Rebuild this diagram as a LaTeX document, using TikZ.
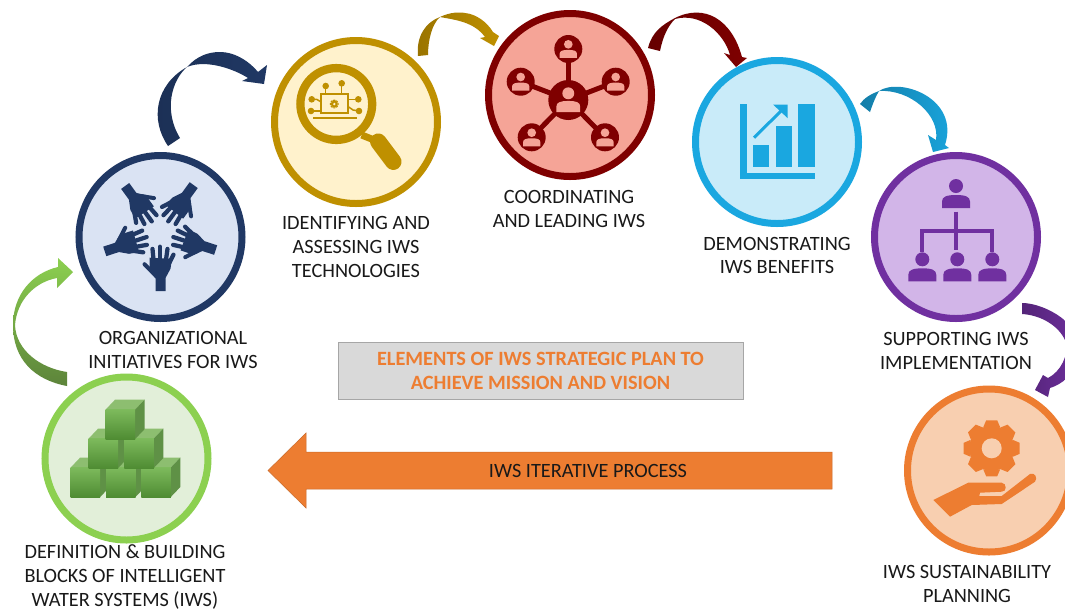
\documentclass[tikz,border=0pt]{standalone}
\usepackage{fontspec}
\setmainfont{Carlito}
\definecolor{navyring}{HTML}{203864}
\definecolor{navyfill}{HTML}{DAE3F3}
\definecolor{goldring}{HTML}{BF9000}
\definecolor{goldfill}{HTML}{FFF2CC}
\definecolor{redring}{HTML}{7F0000}
\definecolor{redfill}{HTML}{F5A497}
\definecolor{bluering}{HTML}{1AA7E0}
\definecolor{bluefill}{HTML}{C9EBF9}
\definecolor{purplering}{HTML}{7030A0}
\definecolor{purplefill}{HTML}{D2B5E8}
\definecolor{orangering}{HTML}{ED7D31}
\definecolor{orangefill}{HTML}{F8CFB0}
\definecolor{greenring}{HTML}{8CD050}
\definecolor{greenfill}{HTML}{E2EFD9}
\definecolor{cubetop}{HTML}{8DBE70}
\definecolor{cubeside}{HTML}{5F9146}
\definecolor{cubehigh}{HTML}{7DBA5C}
\definecolor{cubelow}{HTML}{4F8C33}
\tikzset{
  ring/.style={circle,draw,line width=1.4mm,minimum size=3.26cm,inner sep=0pt,outer sep=0pt},
  caption/.style={align=center,inner sep=0pt,text=black!90,font=\fontsize{11.55}{13.6}\selectfont},
  person/.pic={
    \fill[pic actions] (0,0) circle (0.7);
    \fill[pic actions] (-1.4,-2.2) -- (-1.4,-1.55) .. controls (-1.4,-1.05) and (-0.9,-0.9) .. (0,-0.9) .. controls (0.9,-0.9) and (1.4,-1.05) .. (1.4,-1.55) -- (1.4,-2.2) -- cycle;
  },
  gear/.pic={
    \fill[pic actions] (0,0) circle (2.25);
    \foreach \a in {0,45,...,315}
      \fill[pic actions,rotate=\a] (-0.85,2.1) -- (-0.55,2.8) -- (0.55,2.8) -- (0.85,2.1) -- cycle;
  },
  palm/.pic={
    \fill[pic actions] (-1.05,-2.5) -- (1.2,-2.6) -- (1.05,-3.6) -- (0.57,-4.5) -- (0.57,-5.83) -- (-0.43,-5.83) -- (-0.43,-4.6) -- (-1.05,-3.9) -- cycle;
    \draw[line width=0.85mm,line cap=round,navyring] (-0.65,-2.7) -- (-0.75,-1.62);
    \draw[line width=0.85mm,line cap=round,navyring] (0,-2.7) -- (0,-1.4);
    \draw[line width=0.85mm,line cap=round,navyring] (0.6,-2.7) -- (0.75,-1.62);
    \draw[line width=0.85mm,line cap=round,navyring] (0.95,-3) -- (1.35,-2.2);
    \draw[line width=0.8mm,line cap=round,navyring] (-0.6,-4.1) -- (-1.55,-3.15);
  },
  cube/.pic={
    \fill[cubetop] (0,2.95) -- (0.95,3.95) -- (3.9,3.95) -- (2.95,2.95) -- cycle;
    \fill[cubeside] (2.95,0) -- (3.9,1) -- (3.9,3.95) -- (2.95,2.95) -- cycle;
    \shade[top color=cubehigh,bottom color=cubelow] (0,0) rectangle (2.95,2.95);
  }
}
\begin{document}
\begin{tikzpicture}[x=2mm,y=2mm]
\clip (0,0) rectangle (106.5,-61);
\fill [white] (0,0) rectangle (106.5,-61);
\node [ring,draw=navyring,fill=navyfill] (orgs) at (16.05,-23.7) {};
\node [ring,draw=goldring,fill=goldfill] (tech) at (35.6,-12.2) {};
\node [ring,draw=redring,fill=redfill] (coord) at (57,-9.5) {};
\node [ring,draw=bluering,fill=bluefill] (benefits) at (77.7,-14.2) {};
\node [ring,draw=purplering,fill=purplefill] (support) at (95.6,-23.7) {};
\node [ring,draw=orangering,fill=orangefill] (sustain) at (98.9,-47.05) {};
\node [ring,draw=greenring,fill=greenfill] (blocks) at (12.65,-45.85) {};
\node [caption] (orgstext) at (17.3,-35) {ORGANIZATIONAL\\INITIATIVES FOR IWS};
\node [caption] (techtext) at (35.6,-24.7) {IDENTIFYING AND\\ASSESSING IWS\\TECHNOLOGIES};
\node [caption] (coordtext) at (56.9,-20.9) {COORDINATING\\AND LEADING IWS};
\node [caption] (benefitstext) at (77.7,-25.55) {DEMONSTRATING\\IWS BENEFITS};
\node [caption] (supporttext) at (95.6,-35.1) {SUPPORTING IWS\\IMPLEMENTATION};
\node [caption] (sustaintext) at (96.7,-58.4) {IWS SUSTAINABILITY\\PLANNING};
\node [caption] (blockstext) at (12.5,-57.7) {DEFINITION \& BUILDING\\BLOCKS OF INTELLIGENT\\WATER SYSTEMS (IWS)};
\node [draw=black!35,fill=black!15,line width=0.2mm,minimum width=8.1cm,minimum height=1.14cm,align=center,inner sep=0pt,text=orangering,font=\fontsize{11.55}{13.6}\selectfont\bfseries] (plan) at (54.05,-37.05) {ELEMENTS OF IWS STRATEGIC PLAN TO\\ACHIEVE MISSION AND VISION};
\draw [draw=orangering!85!black,fill=orangering,line width=0.1mm] (83.2,-45.2) -- (30.6,-45.2) -- (30.6,-43.3) -- (26.8,-47.05) -- (30.6,-50.8) -- (30.6,-48.9) -- (83.2,-48.9) -- cycle;
\node [caption] (process) at (58.8,-47.1) {IWS ITERATIVE PROCESS};
\coordinate (blockstail) at (6.7,-38.6);
\coordinate (orgstip) at (7.3,-27.2);
\shade [top color=greenring,bottom color=greenring!60!black!95] (blockstail) .. controls (3.5,-38) and (1.3,-36) .. (1.3,-32.5) .. controls (1.3,-29.5) and (3.2,-27.3) .. (5.8,-26.7) -- (5.8,-25.8) -- (orgstip) -- (5.7,-28.8) -- (5.7,-27.8) .. controls (3.5,-28.2) and (1.7,-30) .. (1.5,-32.5) .. controls (1.6,-35) and (4,-36.8) .. (6.7,-37.2) -- cycle;
\coordinate (orgstail) at (16.8,-14.6);
\coordinate (techtip) at (26.4,-8.4);
\shade [left color=navyring!85!black,right color=navyring] (orgstail) .. controls (15,-12) and (15.5,-8.5) .. (18.7,-6.7) .. controls (19.7,-5.6) and (20.8,-5.2) .. (22,-5.2) .. controls (23.3,-5.2) and (24.7,-5.9) .. (25.8,-7.2) -- (26.7,-6.5) -- (techtip) -- (24.2,-8.1) -- (24.8,-7.8) .. controls (23.4,-6.9) and (20.6,-5.9) .. (18.7,-6.7) .. controls (17.2,-8) and (16.3,-11) .. (18,-13.8) -- cycle;
\coordinate (techtail) at (41.8,-5.6);
\coordinate (coordtip) at (49.4,-4.6);
\shade [left color=goldring!80!black,right color=goldring] (techtail) .. controls (41.6,-3.6) and (42.6,-2.2) .. (44,-1.7) .. controls (45,-1.2) and (46,-1.2) .. (46.5,-1.3) .. controls (47.6,-1.4) and (48.7,-2.2) .. (49.3,-3.2) -- (49.9,-3.6) -- (coordtip) -- (48,-3.8) -- (48.5,-3.7) .. controls (47.4,-2.2) and (45.6,-2) .. (44,-1.7) .. controls (43.2,-2.4) and (42.8,-4) .. (42.8,-5.5) -- cycle;
\coordinate (coordtail) at (64.8,-4.8);
\coordinate (benefitstip) at (73.6,-6.7);
\shade [left color=redring!80!black,right color=redring] (coordtail) .. controls (65.2,-3.2) and (66.2,-2.5) .. (67.5,-1.8) .. controls (70.5,-0.3) and (73.2,-2) .. (74.2,-5.7) -- (74.7,-5.8) -- (benefitstip) -- (72.4,-5.3) -- (73,-5.5) .. controls (72.4,-3.3) and (70,-1.2) .. (67.5,-1.9) .. controls (66.8,-2.6) and (66.3,-3.6) .. (66,-5.1) -- cycle;
\coordinate (benefitstail) at (86,-10.4);
\coordinate (supporttip) at (93.3,-15.2);
\shade [left color=bluering!75!black,right color=bluering] (benefitstail) .. controls (86.4,-9.8) and (87.1,-9.4) .. (87.9,-9.1) .. controls (90,-7.7) and (96,-9.8) .. (94.5,-14.5) -- (94.9,-14.8) -- (supporttip) -- (92.8,-13.5) -- (93.6,-14) .. controls (94,-11.5) and (91,-8.9) .. (87.9,-9.1) .. controls (87.6,-9.6) and (87.3,-10.3) .. (87,-11.2) -- cycle;
\coordinate (supporttail) at (102.2,-30.3);
\coordinate (sustaintip) at (103.5,-39);
\shade [left color=purplering!75!black,right color=purplering] (supporttail) .. controls (104.5,-30.3) and (108.5,-32.5) .. (108,-35.5) .. controls (107.6,-37.5) and (106,-38.5) .. (105,-38.8) -- (104.8,-39.7) -- (sustaintip) -- (104.3,-37.5) -- (104.8,-37.8) .. controls (106,-37.2) and (107,-35.5) .. (106.5,-34) .. controls (105.8,-32.5) and (104,-31.5) .. (102.2,-31.4) -- cycle;
\pic [fill=navyring,rotate=0] at (16,-23.27) {palm};
\pic [fill=navyring,rotate=72] at (16,-23.27) {palm};
\pic [fill=navyring,rotate=144] at (16,-23.27) {palm};
\pic [fill=navyring,rotate=216] at (16,-23.27) {palm};
\pic [fill=navyring,rotate=288] at (16,-23.27) {palm};
\draw [goldring,line width=1.66mm] (33.63,-10.4) circle (3.59);
\draw [goldring,line width=3.3mm,line cap=round] (37.83,-14.17) -- (39.33,-16.17);
\draw [goldring,line width=1.4mm] (36.17,-13.5) -- (37.83,-14.17);
\draw [goldring,line width=0.33mm] (32.07,-9.43) rectangle (34.83,-11.33);
\draw [goldring,line width=0.4mm] (31.33,-11.83) -- (35.73,-11.83);
\pic [fill=goldring,scale=0.155] at (33.43,-10.4) {gear};
\fill [goldfill] (33.43,-10.4) circle (0.13);
\fill [goldring] (32.57,-8.6) circle (0.33);
\fill [goldring] (34.17,-8.33) circle (0.33);
\fill [goldring] (31.17,-9.93) circle (0.33);
\fill [goldring] (31.1,-11.1) circle (0.33);
\fill [goldring] (35.83,-9.93) circle (0.33);
\fill [goldring] (35.9,-11.1) circle (0.33);
\draw [goldring,line width=0.3mm] (32.57,-8.6) -- (32.57,-9.43);
\draw [goldring,line width=0.3mm] (34.17,-8.33) -- (34.17,-9.43);
\draw [goldring,line width=0.3mm] (31.17,-9.93) -- (31.67,-9.93) -- (32.07,-10.17);
\draw [goldring,line width=0.3mm] (31.1,-11.1) -- (32.07,-11.1);
\draw [goldring,line width=0.3mm] (35.83,-9.93) -- (34.83,-9.93);
\draw [goldring,line width=0.3mm] (35.9,-11.1) -- (35.3,-11) -- (34.83,-10.67);
\draw [redring,line width=1mm] (56.83,-10) -- (56.83,-4.9);
\draw [redring,line width=1mm] (56.83,-10) -- (52.07,-8.17);
\draw [redring,line width=1mm] (56.83,-10) -- (61.57,-8.17);
\draw [redring,line width=1mm] (56.83,-10) -- (53.17,-13.73);
\draw [redring,line width=1mm] (56.83,-10) -- (60.5,-13.73);
\fill [redring] (56.83,-10) circle (2);
\fill [redring] (56.83,-4.9) circle (1.4);
\fill [redring] (52.07,-8.17) circle (1.4);
\fill [redring] (61.57,-8.17) circle (1.4);
\fill [redring] (53.17,-13.73) circle (1.4);
\fill [redring] (60.5,-13.73) circle (1.4);
\pic [fill=redfill,scale=0.85] at (56.83,-9.33) {person};
\pic [fill=redfill,scale=0.62] at (56.83,-4.43) {person};
\pic [fill=redfill,scale=0.62] at (52.07,-7.7) {person};
\pic [fill=redfill,scale=0.62] at (61.57,-7.7) {person};
\pic [fill=redfill,scale=0.62] at (53.17,-13.27) {person};
\pic [fill=redfill,scale=0.62] at (60.5,-13.27) {person};
\fill [bluering] (74,-10.4) rectangle (74.67,-17.93);
\fill [bluering] (74,-17.27) rectangle (81.5,-17.93);
\fill [bluering] (75.27,-14.5) rectangle (76.93,-16.67);
\fill [bluering] (77.57,-12.57) rectangle (79.17,-16.67);
\fill [bluering] (79.83,-10.4) rectangle (81.5,-16.67);
\draw [bluering,line width=0.6mm] (75.4,-13.77) -- (78.4,-10.8);
\fill [bluering] (77.3,-10.45) -- (78.75,-10.45) -- (78.75,-11.8) -- cycle;
\pic [fill=purplering] at (95.6,-18.6) {person};
\pic [fill=purplering] at (92.23,-25.93) {person};
\pic [fill=purplering] at (95.73,-25.93) {person};
\pic [fill=purplering] at (99.23,-25.93) {person};
\draw [purplering,line width=0.8mm] (95.6,-21.17) -- (95.6,-25);
\draw [purplering,line width=0.8mm] (92.23,-25.2) -- (92.23,-23.1) -- (99.23,-23.1) -- (99.23,-25.2);
\pic [fill=orangering] at (99.17,-44.83) {gear};
\fill [orangefill] (99.17,-44.83) circle (1);
\fill [orangering] (93.33,-50) -- (96.83,-48.27) -- (100.17,-48.27) .. controls (100.7,-48.3) and (100.7,-49.2) .. (100.17,-49.17) -- (98,-49.27) -- (97.93,-49.6) -- (100.17,-49.6) -- (103,-47.4) .. controls (103.5,-47.2) and (103.8,-47.8) .. (103.5,-48.17) -- (100.17,-50.4) -- (97.17,-50.5) -- (95,-51.67) -- cycle;
\pic at (7.07,-49.7) {cube};
\pic at (10.6,-49.7) {cube};
\pic at (14.13,-49.7) {cube};
\pic at (8.87,-46.8) {cube};
\pic at (12.43,-46.8) {cube};
\pic at (10.57,-43.9) {cube};
\end{tikzpicture}
\end{document}
